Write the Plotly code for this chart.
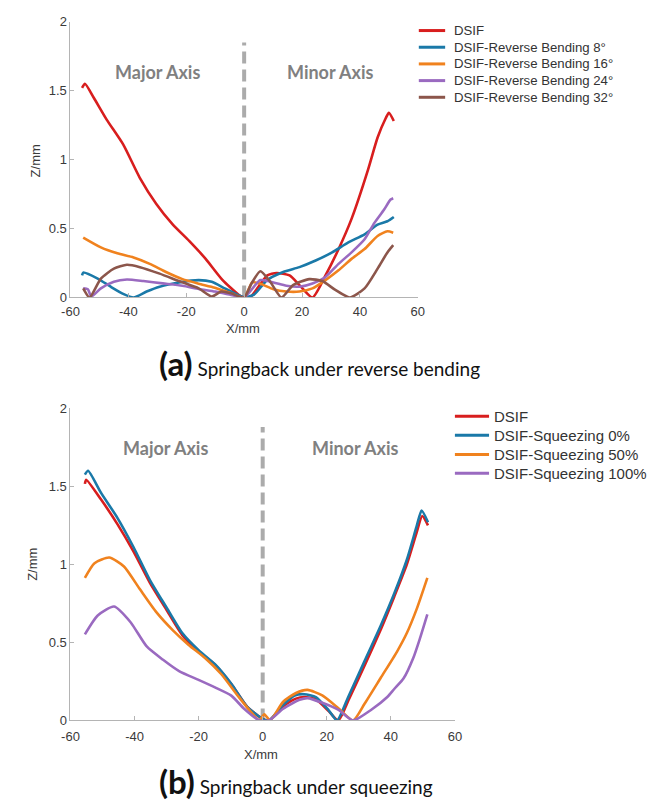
import plotly.graph_objects as go

# ---------------- data: (a) reverse bending ----------------
dsif_a_x = [-56, -55, -52, -47.5, -41.8, -36.1, -30.4, -24.7, -19, -13.3, -7.6, -1.9, 0, 2, 5, 8, 11.2, 15.7, 19.1, 23.6, 28.1, 32.6, 37.1, 42.7, 46.1, 48.9, 50, 51.7]
dsif_a_y = [1.52, 1.55, 1.45, 1.29, 1.11, 0.87, 0.68, 0.53, 0.41, 0.28, 0.13, 0.02, 0, 0.0, 0.08, 0.16, 0.178, 0.16, 0.09, 0.0, 0.16, 0.35, 0.57, 0.92, 1.16, 1.30, 1.34, 1.28]

rb8_x = [-56, -55.6, -50.6, -46.1, -41.6, -38.2, -33.7, -29.2, -22.5, -15.7, -11.2, -6.7, -2.2, 0, 3.4, 7.9, 13.5, 19.1, 24.7, 30.4, 36, 41.6, 46.1, 49.5, 51.7]
rb8_y = [0.16, 0.18, 0.137, 0.078, 0.024, 0.0, 0.043, 0.078, 0.109, 0.126, 0.114, 0.066, 0.019, 0, 0.02, 0.126, 0.185, 0.22, 0.268, 0.327, 0.40, 0.458, 0.529, 0.553, 0.584]

rb16_x = [-55.6, -49.5, -43.8, -38.2, -32.6, -27, -21.3, -15.7, -10.1, -4.5, 0, 2.8, 5.6, 10.1, 14.6, 19.1, 23.6, 28.1, 32.6, 37.1, 41.6, 46.1, 49.5, 51.5]
rb16_y = [0.434, 0.363, 0.32, 0.29, 0.244, 0.185, 0.133, 0.10, 0.071, 0.03, 0, 0.11, 0.10, 0.06, 0.043, 0.043, 0.066, 0.126, 0.197, 0.28, 0.351, 0.446, 0.48, 0.47]

rb24_x = [-55.6, -54, -52.8, -49.5, -45, -40.5, -34.8, -28.1, -21.3, -15.7, -10.1, -4.5, 0, 5.6, 10.1, 14.6, 19.1, 23.6, 28.1, 32.6, 37.1, 41.6, 45, 48.3, 50.6, 51.5]
rb24_y = [0.066, 0.06, 0.007, 0.066, 0.114, 0.13, 0.119, 0.102, 0.085, 0.062, 0.043, 0.019, 0, 0.126, 0.109, 0.085, 0.078, 0.102, 0.149, 0.244, 0.327, 0.422, 0.541, 0.636, 0.71, 0.72]

rb32_x = [-55.6, -53.4, -49.5, -45, -40.5, -36, -29.2, -22.5, -15.7, -11.2, -7.9, -4.5, 0, 2.5, 5.6, 9, 12.9, 16.9, 22.5, 27, 31.5, 36.5, 41.6, 46.1, 49.5, 51.5]
rb32_y = [0.066, 0.0, 0.137, 0.209, 0.237, 0.22, 0.173, 0.119, 0.066, 0.007, 0.043, 0.03, 0, 0.1, 0.19, 0.114, 0.0, 0.09, 0.133, 0.119, 0.055, 0.0, 0.066, 0.209, 0.327, 0.38]

# ---------------- data: (b) squeezing ----------------
dsif_b_x = [-55.5, -55.1, -50.5, -45.4, -40.3, -35.2, -30.2, -25.1, -20, -14.9, -9.8, -4.8, 0, 2, 6.4, 10.4, 13, 16.6, 20.6, 23.6, 27, 32, 37, 41, 45, 48, 49.8, 51.6]
dsif_b_y = [1.516, 1.543, 1.417, 1.26, 1.082, 0.882, 0.715, 0.547, 0.442, 0.358, 0.233, 0.086, 0.01, 0.0, 0.09, 0.14, 0.15, 0.135, 0.06, 0.0, 0.14, 0.36, 0.59, 0.79, 1.0, 1.2, 1.31, 1.25]

sq0_x = [-55.5, -54.5, -50.5, -45.4, -40.3, -35.2, -30.2, -25.1, -20, -14.9, -9.8, -4.8, 0, 2, 6.4, 10, 13, 16.6, 20.6, 23.2, 26.7, 31.8, 36.9, 41, 45, 48, 49.6, 51.6]
sq0_y = [1.575, 1.60, 1.46, 1.30, 1.11, 0.90, 0.73, 0.56, 0.45, 0.36, 0.235, 0.087, 0.01, 0.0, 0.1, 0.16, 0.168, 0.15, 0.065, 0.0, 0.15, 0.38, 0.61, 0.81, 1.03, 1.24, 1.345, 1.27]

sq50_x = [-55.5, -52.5, -47.9, -43.3, -38.3, -33.2, -28.1, -23.1, -18, -12.9, -7.8, -3.7, -1, 0.5, 2.3, 6.4, 10.4, 14, 18.6, 23.7, 28.2, 31.8, 36.9, 41.9, 45, 48, 51.4]
sq50_y = [0.914, 1.008, 1.044, 0.987, 0.84, 0.694, 0.579, 0.484, 0.40, 0.296, 0.159, 0.055, 0.0, 0.04, 0.0, 0.12, 0.176, 0.196, 0.16, 0.077, 0.0, 0.107, 0.275, 0.44, 0.56, 0.71, 0.914]

sq100_x = [-55.5, -51.5, -46.4, -41.3, -36.2, -31.2, -26.1, -20, -14.9, -9.8, -5.8, -1, 2, 6.4, 11.5, 14, 18.6, 23.7, 28.2, 33.8, 38.9, 41, 44, 47, 49, 51.4]
sq100_y = [0.552, 0.673, 0.73, 0.631, 0.474, 0.39, 0.316, 0.26, 0.212, 0.159, 0.075, 0.0, 0.0, 0.075, 0.132, 0.143, 0.113, 0.067, 0.0, 0.067, 0.15, 0.2, 0.27, 0.40, 0.52, 0.68]

divider_x = [0, 0]
divider_a_y = [0, 1.85]
divider_b_y = [0, 1.88]

x_ticks = [-60, -40, -20, 0, 20, 40, 60]
x_tick_text = ["-60", "-40", "-20", "0", "20", "40", "60"]
y_ticks = [0, 0.5, 1, 1.5, 2]
y_tick_text = ["0", "0.5", "1", "1.5", "2"]

names_a = ["DSIF", "DSIF-Reverse Bending 8°", "DSIF-Reverse Bending 16°",
           "DSIF-Reverse Bending 24°", "DSIF-Reverse Bending 32°"]
names_b = ["DSIF", "DSIF-Squeezing 0%", "DSIF-Squeezing 50%", "DSIF-Squeezing 100%"]

RED, BLUE, ORANGE, PURPLE, BROWN = "#d81e1e", "#1a79a8", "#f0821e", "#9a6ac0", "#8c564b"
colors_a = [RED, BLUE, ORANGE, PURPLE, BROWN]
colors_b = [RED, BLUE, ORANGE, PURPLE]

series_a = [(dsif_a_x, dsif_a_y), (rb8_x, rb8_y), (rb16_x, rb16_y), (rb24_x, rb24_y), (rb32_x, rb32_y)]
series_b = [(dsif_b_x, dsif_b_y), (sq0_x, sq0_y), (sq50_x, sq50_y), (sq100_x, sq100_y)]

W, H = 659, 804


def px_x(p):
    return p / W


def px_y(p):
    return 1 - p / H


fig = go.Figure()

for xa, ya, yv in (("x", "y", divider_a_y), ("x2", "y2", divider_b_y)):
    fig.add_trace(go.Scatter(x=divider_x, y=yv, mode="lines", xaxis=xa, yaxis=ya,
                             line=dict(color="#ababab", width=4, dash="12px,6px"),
                             showlegend=False, hoverinfo="skip"))

for (xs, ys), nm, c in zip(series_a, names_a, colors_a):
    fig.add_trace(go.Scatter(x=xs, y=ys, mode="lines", name=nm, xaxis="x", yaxis="y",
                             line=dict(color=c, width=2.6, shape="spline", smoothing=0.6),
                             showlegend=False))
for (xs, ys), nm, c in zip(series_b, names_b, colors_b):
    fig.add_trace(go.Scatter(x=xs, y=ys, mode="lines", name=nm, xaxis="x2", yaxis="y2",
                             line=dict(color=c, width=2.6, shape="spline", smoothing=0.6),
                             showlegend=False))

axis_common = dict(showline=True, linecolor="#b4b4b4", linewidth=1, showgrid=False,
                   zeroline=False, ticks="inside", ticklen=4, tickcolor="#b4b4b4",
                   tickfont=dict(family="Liberation Sans, Arial", size=13, color="#3a3a3a"),
                   mirror=False)

fig.update_layout(
    width=W, height=H,
    margin=dict(l=0, r=0, t=0, b=0),
    paper_bgcolor="white", plot_bgcolor="white",
    showlegend=False,
    xaxis=dict(domain=[px_x(63), px_x(419)], range=[-60, 60], anchor="y",
               tickvals=x_ticks, ticktext=x_tick_text, ticklabelstandoff=2, **axis_common),
    yaxis=dict(domain=[px_y(296), px_y(15)], range=[0, 2], anchor="x",
               tickvals=y_ticks, ticktext=y_tick_text, **axis_common),
    xaxis2=dict(domain=[px_x(63), px_x(457)], range=[-60, 60], anchor="y2",
                tickvals=x_ticks, ticktext=x_tick_text, ticklabelstandoff=4, **axis_common),
    yaxis2=dict(domain=[px_y(727), px_y(409)], range=[0, 2], anchor="x2",
                tickvals=y_ticks, ticktext=y_tick_text, **axis_common),
)

ann = []
shapes = []

leg_a_rows = [24, 41, 58, 75, 92]
for nm, c, ry in zip(names_a, colors_a, leg_a_rows):
    shapes.append(dict(type="line", xref="paper", yref="paper",
                       x0=px_x(420), x1=px_x(447), y0=px_y(ry), y1=px_y(ry),
                       line=dict(color=c, width=3)))
    ann.append(dict(text=nm, x=px_x(454), y=px_y(ry), xref="paper", yref="paper",
                    xanchor="left", yanchor="middle", showarrow=False,
                    font=dict(family="Liberation Sans, Arial", size=13.2, color="#333333")))

leg_b_rows = [417, 436.5, 456, 475]
for nm, c, ry in zip(names_b, colors_b, leg_b_rows):
    shapes.append(dict(type="line", xref="paper", yref="paper",
                       x0=px_x(457), x1=px_x(492), y0=px_y(ry), y1=px_y(ry),
                       line=dict(color=c, width=3)))
    ann.append(dict(text=nm, x=px_x(495), y=px_y(ry), xref="paper", yref="paper",
                    xanchor="left", yanchor="middle", showarrow=False,
                    font=dict(family="Liberation Sans, Arial", size=15, color="#333333")))

label_font = dict(family="Lato, Open Sans", size=18, color="#808080")
for txt, cx, cy in (("Major Axis", 152, 66), ("Minor Axis", 330, 66),
                    ("Major Axis", 160, 449), ("Minor Axis", 355, 449)):
    ann.append(dict(text="<b>" + txt + "</b>", x=px_x(cx), y=px_y(cy), xref="paper", yref="paper",
                    xanchor="center", yanchor="middle", showarrow=False, font=label_font))

title_font = dict(family="Liberation Sans, Arial", size=13, color="#3a3a3a")
for txt, cx, cy, ang in (("X/mm", 240, 328, 0), ("Z/mm", 27, 157, -90),
                         ("X/mm", 258, 762, 0), ("Z/mm", 24, 568, -90)):
    ann.append(dict(text=txt, x=px_x(cx), y=px_y(cy), xref="paper", yref="paper",
                    xanchor="center", yanchor="middle", showarrow=False,
                    font=title_font, textangle=ang))

cap_font = dict(family="Lato, Open Sans", size=19, color="#111111")
ann.append(dict(text="<b><span style='font-size:33px'>(a)</span></b> Springback under reverse bending",
                x=px_x(152), y=px_y(363), xref="paper", yref="paper",
                xanchor="left", yanchor="middle", showarrow=False, font=cap_font))
ann.append(dict(text="<b><span style='font-size:33px'>(b)</span></b> Springback under squeezing",
                x=px_x(152), y=px_y(789), xref="paper", yref="paper",
                xanchor="left", yanchor="middle", showarrow=False, font=cap_font))

fig.update_layout(annotations=ann, shapes=shapes)
fig.write_html("out.html")
